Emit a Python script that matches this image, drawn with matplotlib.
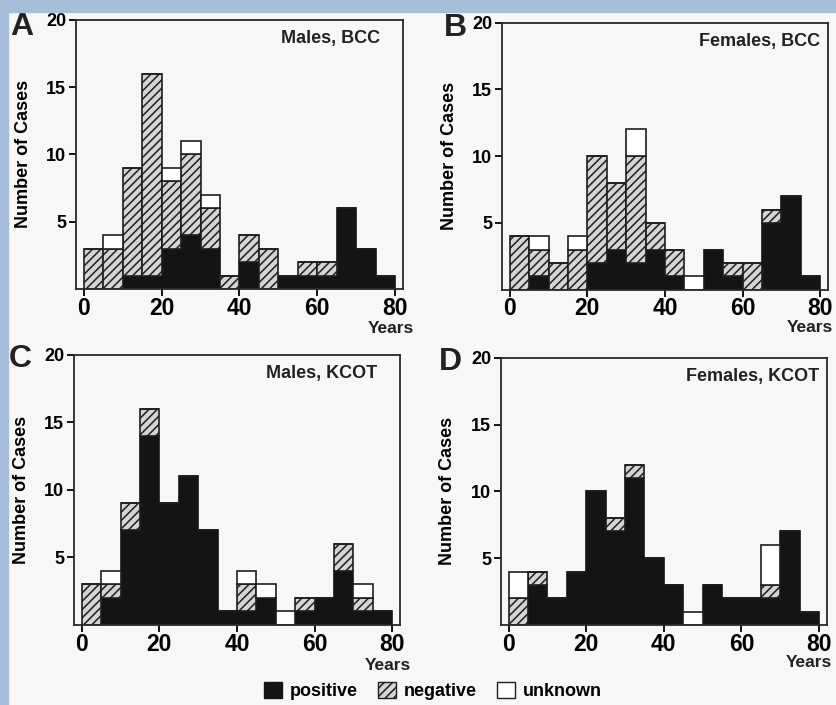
import numpy as np
import matplotlib.pyplot as plt
from matplotlib.patches import Patch, Rectangle

plt.rcParams['font.family'] = ['Liberation Sans', 'DejaVu Sans']
plt.rcParams['font.weight'] = 'bold'
plt.rcParams['hatch.linewidth'] = 1.1

# age bins (years), 5-year wide
bin_start = np.arange(0, 80, 5)

# A: males, BCC
a_pos = [0, 0, 1, 1, 3, 4, 3, 0, 2, 0, 1, 1, 1, 6, 3, 1]
a_neg = [3, 3, 8, 15, 5, 6, 3, 1, 2, 3, 0, 1, 1, 0, 0, 0]
a_unk = [0, 1, 0, 0, 1, 1, 1, 0, 0, 0, 0, 0, 0, 0, 0, 0]
# B: females, BCC
b_pos = [0, 1, 0, 0, 2, 3, 2, 3, 1, 0, 3, 1, 0, 5, 7, 1]
b_neg = [4, 2, 2, 3, 8, 5, 8, 2, 2, 0, 0, 1, 2, 1, 0, 0]
b_unk = [0, 1, 0, 1, 0, 0, 2, 0, 0, 1, 0, 0, 0, 0, 0, 0]
# C: males, KCOT
c_pos = [0, 2, 7, 14, 9, 11, 7, 1, 1, 2, 0, 1, 2, 4, 1, 1]
c_neg = [3, 1, 2, 2, 0, 0, 0, 0, 2, 0, 0, 1, 0, 2, 1, 0]
c_unk = [0, 1, 0, 0, 0, 0, 0, 0, 1, 1, 1, 0, 0, 0, 1, 0]
# D: females, KCOT
d_pos = [0, 3, 2, 4, 10, 7, 11, 5, 3, 0, 3, 2, 2, 2, 7, 1]
d_neg = [2, 1, 0, 0, 0, 1, 1, 0, 0, 0, 0, 0, 0, 1, 0, 0]
d_unk = [2, 0, 0, 0, 0, 0, 0, 0, 0, 1, 0, 0, 0, 3, 0, 0]

# letter, title, data, axes rect, letter position, title x, years position
panels = [
    ("A", "Males, BCC", a_pos, a_neg, a_unk, [0.0909, 0.590, 0.391, 0.382],
     (-0.165, 0.944), 0.93, (1.035, -0.165)),
    ("B", "Females, BCC", b_pos, b_neg, b_unk, [0.6005, 0.589, 0.390, 0.379],
     (-0.144, 0.951), 0.977, (1.016, -0.158)),
    ("C", "Males, KCOT", c_pos, c_neg, c_unk, [0.0885, 0.1135, 0.390, 0.383],
     (-0.166, 0.955), 0.93, (1.035, -0.165)),
    ("D", "Females, KCOT", d_pos, d_neg, d_unk, [0.599, 0.1135, 0.390, 0.379],
     (-0.153, 0.955), 0.977, (1.016, -0.158)),
]

black = '#141414'
grey = '#d4d4d4'
bg = '#f7f7f6'

fig = plt.figure(figsize=(8.36, 7.05), dpi=100, facecolor=bg)
# blue frame of the scanned page
fig.patches.append(Rectangle((0, 0), 8 / 836, 1, transform=fig.transFigure,
                             color='#a7bedb', zorder=0))
fig.patches.append(Rectangle((0, 1 - 12 / 705), 1, 12 / 705, transform=fig.transFigure,
                             color='#a7bedb', zorder=0))

for letter, title, pos, neg, unk, rect, lpos, tx, ypos in panels:
    ax = fig.add_axes(rect)
    ax.set_facecolor(bg)
    pos = np.array(pos)
    neg = np.array(neg)
    unk = np.array(unk)
    ax.bar(bin_start, pos, width=5, align='edge', color=black,
           edgecolor=black, linewidth=1.2)
    ax.bar(bin_start, neg, width=5, align='edge', bottom=pos, facecolor=grey,
           edgecolor='#1e1e1e', hatch='////', linewidth=1.2)
    ax.bar(bin_start, unk, width=5, align='edge', bottom=pos + neg, facecolor='white',
           edgecolor='#1e1e1e', linewidth=1.2)

    ax.set_xlim(-2, 82)
    ax.set_ylim(0, 20)
    ax.set_xticks([0, 20, 40, 60, 80])
    ax.set_yticks([5, 10, 15, 20])
    ax.tick_params(axis='x', labelsize=16.5, length=5, width=1.3, pad=0.5)
    ax.tick_params(axis='y', labelsize=13, length=5, width=1.3, pad=2)
    for s in ax.spines.values():
        s.set_linewidth(1.3)
        s.set_color('#2a2a2a')
    ax.set_ylabel("Number of Cases", fontsize=13, fontweight='bold')
    ax.yaxis.set_label_coords(-0.136, 0.5)
    ax.text(tx, 0.93, title, transform=ax.transAxes,
            ha='right', va='center', fontsize=13, fontweight='bold', color='#222')
    ax.text(ypos[0], ypos[1], "Years", transform=ax.transAxes, ha='right', va='baseline',
            fontsize=12.5, fontweight='bold', color='#222')
    ax.text(lpos[0], lpos[1], letter, transform=ax.transAxes,
            ha='center', va='baseline', fontsize=23, fontweight='bold', color='#222')

handles = [Patch(facecolor=black, edgecolor=black, label='positive'),
           Patch(facecolor=grey, edgecolor='#1e1e1e', hatch='////', label='negative'),
           Patch(facecolor='white', edgecolor='#1e1e1e', label='unknown')]
fig.legend(handles=handles, loc='center', bbox_to_anchor=(0.518, 0.02), ncol=3,
           frameon=False, fontsize=13, handlelength=1.0, handleheight=1.0,
           handletextpad=0.45, columnspacing=1.1)

fig.savefig("out.png", dpi=100, facecolor=bg)
